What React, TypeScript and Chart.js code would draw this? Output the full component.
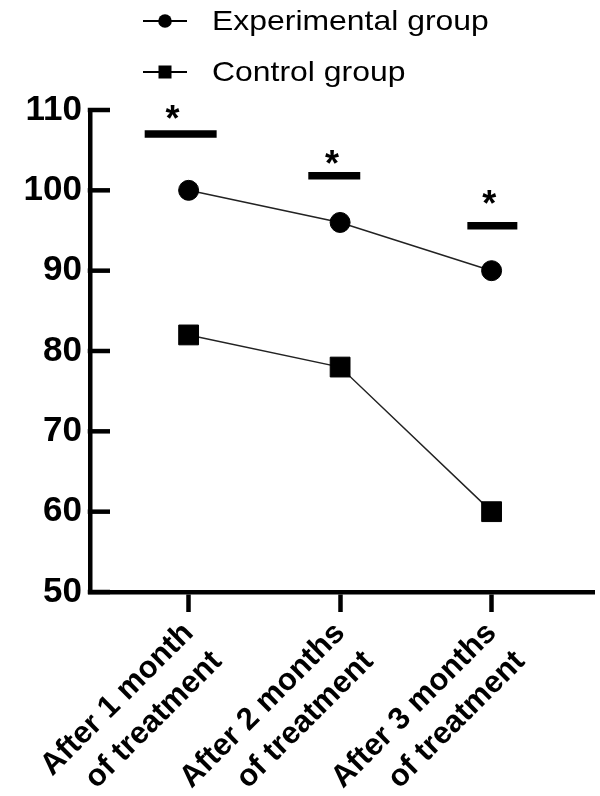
import React, { useEffect, useRef } from 'react';
import { Chart, registerables } from 'chart.js';

Chart.register(...registerables);

// ---- data ----
const categories: string[][] = [
  ['After 1 month', 'of treatment'],
  ['After 2 months', 'of treatment'],
  ['After 3 months', 'of treatment'],
];
const categoryPositions = [0, 1, 2];
const seriesNames = ['Experimental group', 'Control group'];
const experimentalValues = [100, 96, 90];
const controlValues = [82, 78, 60];
const yTickValues = [50, 60, 70, 80, 90, 100, 110];

// significance markers (data units)
const sigBarStart = [-0.29, 0.79, 1.84];
const sigBarEnd = [0.185, 1.133, 2.17];
const sigBarY = [107, 101.8, 95.6];
const sigStarX = [-0.106, 0.947, 1.985];
const sigStarY = [109.75, 104.15, 99.17];
const sigLabels = ['*', '*', '*'];

const FONT = "'Liberation Sans', Arial, Helvetica, sans-serif";

const innerYTicks = {
  id: 'innerYTicks',
  afterDraw(chart: any) {
    const ys = chart.scales.y;
    const ctx = chart.ctx;
    const left = chart.chartArea.left;
    ctx.save();
    ctx.strokeStyle = '#000';
    ctx.lineWidth = 4.5;
    ctx.lineCap = 'butt';
    ys.ticks.forEach((t: any) => {
      const py = ys.getPixelForValue(t.value);
      ctx.beginPath();
      ctx.moveTo(left - 2.25, py);
      ctx.lineTo(left + 20, py);
      ctx.stroke();
    });
    ctx.restore();
  },
};

const starsPlugin = {
  id: 'stars',
  afterDatasetsDraw(chart: any) {
    const { ctx, scales } = chart;
    ctx.save();
    ctx.fillStyle = '#000';
    ctx.font = `bold 36px ${FONT}`;
    ctx.textAlign = 'left';
    ctx.textBaseline = 'alphabetic';
    sigLabels.forEach((lab, i) => {
      const cx = scales.x.getPixelForValue(sigStarX[i]);
      const cy = scales.y.getPixelForValue(sigStarY[i]);
      const m = ctx.measureText(lab);
      const a = m.actualBoundingBoxAscent;
      const d = m.actualBoundingBoxDescent;
      const l = m.actualBoundingBoxLeft;
      const r = m.actualBoundingBoxRight;
      const x = cx - (r - l) / 2;
      const y = cy + (a - d) / 2;
      ctx.fillText(lab, x, y);
    });
    ctx.restore();
  },
};

const legendPlugin = {
  id: 'customLegend',
  afterDraw(chart: any) {
    const ctx = chart.ctx;
    const rows = [
      { name: seriesNames[0], y: 21, style: 'circle' },
      { name: seriesNames[1], y: 72, style: 'rect' },
    ];
    ctx.save();
    rows.forEach((row) => {
      ctx.strokeStyle = '#000';
      ctx.lineWidth = 2;
      ctx.beginPath();
      ctx.moveTo(143, row.y);
      ctx.lineTo(187, row.y);
      ctx.stroke();
      ctx.fillStyle = '#000';
      if (row.style === 'circle') {
        ctx.beginPath();
        ctx.arc(165, row.y, 6.8, 0, Math.PI * 2);
        ctx.fill();
      } else {
        ctx.fillRect(165 - 6.5, row.y - 6.5, 13, 13);
      }
      ctx.save();
      ctx.font = `28px ${FONT}`;
      ctx.textBaseline = 'middle';
      ctx.textAlign = 'left';
      ctx.translate(212, row.y + 1);
      ctx.scale(1.14, 1);
      ctx.fillText(row.name, 0, 0);
      ctx.restore();
    });
    ctx.restore();
  },
};

export default function App() {
  const ref = useRef<HTMLCanvasElement | null>(null);

  useEffect(() => {
    if (!ref.current) return;
    const sigDatasets = sigBarY.map((yv, i) => ({
      type: 'line' as const,
      label: 'sig' + i,
      data: [
        { x: sigBarStart[i], y: yv },
        { x: sigBarEnd[i], y: yv },
      ],
      borderColor: '#000',
      borderWidth: 7.5,
      borderCapStyle: 'butt' as const,
      pointRadius: 0,
      pointHoverRadius: 0,
      clip: false as any,
    }));

    const chart = new Chart(ref.current, {
      type: 'line',
      data: {
        datasets: [
          {
            label: seriesNames[0],
            data: categoryPositions.map((x, i) => ({ x, y: experimentalValues[i] })),
            borderColor: '#222',
            borderWidth: 1.5,
            pointStyle: 'circle',
            pointRadius: 10,
            pointBackgroundColor: '#000',
            pointBorderColor: '#000',
            pointBorderWidth: 1,
            clip: false as any,
          },
          {
            label: seriesNames[1],
            data: categoryPositions.map((x, i) => ({ x, y: controlValues[i] })),
            borderColor: '#222',
            borderWidth: 1.5,
            pointStyle: 'rect',
            pointRadius: 14,
            pointBackgroundColor: '#000',
            pointBorderColor: '#000',
            pointBorderWidth: 1,
            clip: false as any,
          },
          ...sigDatasets,
        ],
      },
      options: {
        responsive: false,
        animation: false,
        events: [],
        layout: { autoPadding: false, padding: { top: 110, left: 0, right: 6, bottom: 0 } },
        plugins: {
          legend: { display: false },
          tooltip: { enabled: false },
          title: { display: false },
        },
        scales: {
          x: {
            type: 'linear',
            min: -0.651,
            max: 2.676,
            afterFit: (s: any) => {
              s.height = 204;
              s.paddingLeft = 0;
              s.paddingRight = 0;
            },
            afterBuildTicks: (s: any) => {
              s.ticks = categoryPositions.map((v) => ({ value: v }));
            },
            grid: {
              display: true,
              drawOnChartArea: false,
              drawTicks: true,
              tickLength: 20,
              tickWidth: 4.5,
              tickColor: '#000',
            },
            border: { display: true, color: '#000', width: 4.5 },
            ticks: {
              autoSkip: false,
              minRotation: 45,
              maxRotation: 45,
              padding: 2,
              color: '#000',
              font: { family: FONT, size: 31, weight: 'bold', lineHeight: 1.3 },
              callback: (value: any) => {
                const idx = categoryPositions.indexOf(Number(value));
                return idx >= 0 ? categories[idx] : '';
              },
            },
          },
          y: {
            type: 'linear',
            min: yTickValues[0],
            max: yTickValues[yTickValues.length - 1],
            afterFit: (s: any) => {
              s.width = 90;
              s.paddingTop = 0;
              s.paddingBottom = 0;
            },
            afterBuildTicks: (s: any) => {
              s.ticks = yTickValues.map((v) => ({ value: v }));
            },
            grid: { display: true, drawOnChartArea: false, drawTicks: false },
            border: { display: true, color: '#000', width: 4.5 },
            ticks: {
              padding: 8,
              color: '#000',
              font: { family: FONT, size: 35, weight: 'bold' },
            },
          },
        },
      },
      plugins: [innerYTicks, starsPlugin, legendPlugin],
    } as any);
    return () => chart.destroy();
  }, []);

  return (
    <div style={{ position: 'absolute', left: 0, top: 0, width: 600, height: 796, background: '#fff' }}>
      <canvas ref={ref} width={600} height={796} style={{ display: 'block' }} />
    </div>
  );
}
